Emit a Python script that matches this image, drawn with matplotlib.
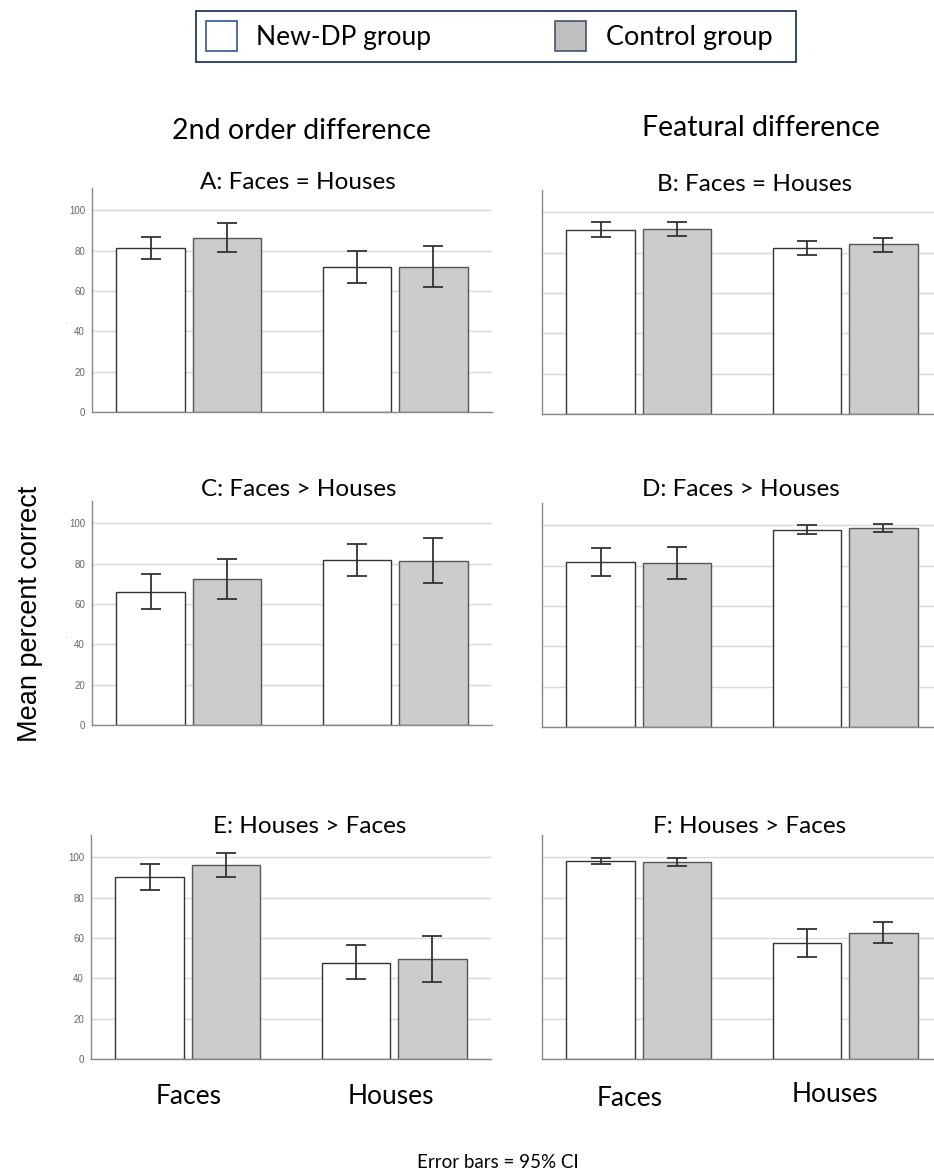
import matplotlib
matplotlib.use('Agg')
import matplotlib.pyplot as plt
import numpy as np
from matplotlib.patches import Rectangle

plt.rcParams['font.family'] = ['Lato', 'DejaVu Sans']

W, H = 934, 1171

categories = ['Faces', 'Houses']
groups = ['New-DP group', 'Control group']
panel_titles = ['A: Faces = Houses', 'B: Faces = Houses',
                'C: Faces > Houses', 'D: Faces > Houses',
                'E: Houses > Faces', 'F: Houses > Faces']

# mean percent correct, per panel: [Faces, Houses]
newdp_mean = [[81.3, 71.9], [91.1, 82.1], [65.7, 81.7], [81.7, 97.7], [90.0, 47.8], [98.2, 57.4]]
newdp_lo = [[75.9, 64.0], [87.8, 78.8], [57.5, 74.0], [74.6, 95.7], [83.7, 39.6], [96.4, 50.7]]
newdp_hi = [[86.8, 79.7], [94.9, 85.5], [75.0, 89.5], [88.8, 100.0], [96.5, 56.6], [99.5, 64.3]]

control_mean = [[86.4, 71.9], [91.7, 84.0], [72.2, 81.5], [81.2, 98.5], [96.0, 49.6], [97.7, 62.3]]
control_lo = [[79.3, 61.7], [88.1, 80.5], [62.4, 70.3], [73.3, 96.7], [90.0, 38.3], [95.5, 57.4]]
control_hi = [[93.7, 82.1], [95.2, 87.4], [82.5, 92.6], [89.3, 100.5], [102.0, 61.0], [99.8, 67.8]]

yticks = [0, 20, 40, 60, 80, 100]


def px_axes(left, bottom, width, height):
    return [left / W, 1 - bottom / H, width / W, height / H]


def fx(px):
    return px / W


def fy(py):
    return 1 - py / H


fig = plt.figure(figsize=(W / 100, H / 100), dpi=100)

# axes boxes in pixels: (left, bottom-y, width, height)
boxes = [(92, 412, 400, 224), (542, 414, 400, 224),
         (92, 725, 400, 224), (542, 727, 400, 224),
         (91, 1059, 400, 224), (542, 1059, 400, 224)]
title_pos = [(298, 189), (755, 191), (299, 496.5), (741, 496.5), (310, 833), (750, 833)]

x = np.arange(len(categories))
off, bw = 0.1855, 0.332

for i, box in enumerate(boxes):
    ax = fig.add_axes(px_axes(*box))
    m1, m2 = np.array(newdp_mean[i]), np.array(control_mean[i])
    e1 = [m1 - np.array(newdp_lo[i]), np.array(newdp_hi[i]) - m1]
    e2 = [m2 - np.array(control_lo[i]), np.array(control_hi[i]) - m2]
    ax.bar(x - off, m1, bw, color='white', edgecolor='#333333', linewidth=1.0, zorder=2)
    ax.bar(x + off, m2, bw, color='#cccccc', edgecolor='#555555', linewidth=1.0, zorder=2)
    ax.errorbar(x - off, m1, yerr=e1, fmt='none', ecolor='#333333', elinewidth=1.3,
                capsize=7, capthick=1.3, zorder=3)
    ax.errorbar(x + off, m2, yerr=e2, fmt='none', ecolor='#333333', elinewidth=1.3,
                capsize=7, capthick=1.3, zorder=3)
    ax.set_xlim(-0.469, 1.469)
    ax.set_ylim(0, 111)
    ax.set_yticks(yticks)
    ax.grid(axis='y', color='#d9d9d9', linewidth=1.0, zorder=0)
    ax.set_axisbelow(True)
    ax.set_xticks([])
    for s in ['top', 'right']:
        ax.spines[s].set_visible(False)
    for s in ['left', 'bottom']:
        ax.spines[s].set_color('#888888')
        ax.spines[s].set_linewidth(1.0)
    ax.tick_params(axis='y', length=0, pad=5, labelsize=7, labelcolor='#666666')
    if i % 2 == 1:
        ax.set_yticklabels([])
    else:
        for lab in ax.get_yticklabels():
            lab.set_family(['Liberation Sans', 'DejaVu Sans'])
    # the middle-row titles sit partly under the panel picture in the source
    tz = -2 if i in (2, 3) else 3
    fig.text(fx(title_pos[i][0]), fy(title_pos[i][1]), panel_titles[i],
             ha='center', va='baseline', fontsize=17.5, zorder=tz)

fig.patches.append(Rectangle((0, fy(501)), 1, 5.5 / H, transform=fig.transFigure,
                             facecolor='white', edgecolor='none', zorder=-1))

# column headers
fig.text(fx(302), fy(139), '2nd order difference', ha='center', va='baseline', fontsize=20.5)
fig.text(fx(761), fy(136), 'Featural difference', ha='center', va='baseline', fontsize=20.5)

# category labels under the bottom row
for cxp, cy, lab in zip([189, 391], [1104, 1104], categories):
    fig.text(fx(cxp), fy(cy), lab, ha='center', va='baseline', fontsize=19)
for cxp, cy, lab in zip([630, 835], [1106, 1102], categories):
    fig.text(fx(cxp), fy(cy), lab, ha='center', va='baseline', fontsize=19)

fig.text(fx(30), fy(614), 'Mean percent correct', rotation=90, ha='center', va='center',
         fontsize=19.5, family=['Liberation Sans', 'DejaVu Sans'])
fig.text(fx(498), fy(1168), 'Error bars = 95% CI', ha='center', va='baseline', fontsize=13.5)

for yy in [322, 636]:
    fig.text(fx(66), fy(yy), '.', ha='center', va='center', fontsize=5, color='#888888')

# legend box at the top
fig.patches.append(Rectangle((fx(196), fy(62)), 600 / W, 51 / H, transform=fig.transFigure,
                             facecolor='white', edgecolor='#203864', linewidth=1.3))
fig.patches.append(Rectangle((fx(206), fy(50.5)), 31 / W, 29 / H, transform=fig.transFigure,
                             facecolor='white', edgecolor='#2F5597', linewidth=1.2))
fig.patches.append(Rectangle((fx(555), fy(50.5)), 31 / W, 29 / H, transform=fig.transFigure,
                             facecolor='#bfbfbf', edgecolor='#44546A', linewidth=1.2))
fig.text(fx(256), fy(45.5), groups[0], ha='left', va='baseline', fontsize=19)
fig.text(fx(606), fy(45.5), groups[1], ha='left', va='baseline', fontsize=19.5)

fig.savefig('out.png', dpi=100, facecolor='white')
